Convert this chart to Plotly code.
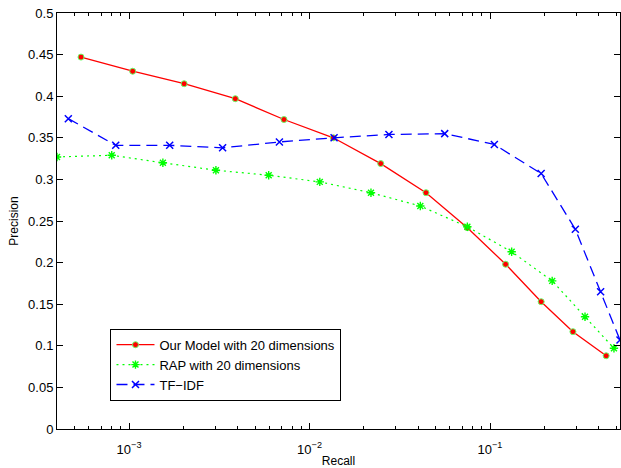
import plotly.graph_objects as go
import math

# Data
model_recall = [5.42e-4, 1.048e-3, 2.02e-3, 3.88e-3, 7.22e-3, 1.355e-2, 2.48e-2, 0.0442, 0.0749, 0.122, 0.192, 0.288, 0.440]
model_precision = [0.447, 0.430, 0.415, 0.397, 0.372, 0.350, 0.319, 0.284, 0.242, 0.198, 0.153, 0.117, 0.088]

rap_recall = [3.99e-4, 8.02e-4, 1.54e-3, 3.03e-3, 5.94e-3, 1.14e-2, 0.0219, 0.0411, 0.0749, 0.1318, 0.221, 0.336, 0.486]
rap_precision = [0.327, 0.329, 0.320, 0.311, 0.305, 0.297, 0.284, 0.268, 0.243, 0.213, 0.178, 0.135, 0.097]

tfidf_recall = [4.61e-4, 8.44e-4, 1.68e-3, 3.30e-3, 6.81e-3, 0.01368, 0.02754, 0.0561, 0.1057, 0.192, 0.297, 0.410, 0.525]
tfidf_precision = [0.373, 0.341, 0.341, 0.338, 0.345, 0.350, 0.354, 0.355, 0.342, 0.307, 0.240, 0.165, 0.107]

names = ["Our Model with 20 dimensions", "RAP with 20 dimensions", "TF\u2212IDF"]

y_ticks = [0, 0.05, 0.1, 0.15, 0.2, 0.25, 0.3, 0.35, 0.4, 0.45, 0.5]
y_labels = ["0", "0.05", "0.1", "0.15", "0.2", "0.25", "0.3", "0.35", "0.4", "0.45", "0.5"]
x_major = [1e-3, 1e-2, 1e-1]
x_labels = ["10<sup>\u22123</sup>", "10<sup>\u22122</sup>", "10<sup>\u22121</sup>"]

x_min = min(rap_recall)
x_max = max(tfidf_recall)
minor_vals = []
for e in range(-4, 1):
    for m in range(2, 10):
        v = m * 10 ** e
        if x_min <= v <= x_max:
            minor_vals.append(v)

fig = go.Figure()
fig.add_trace(go.Scatter(
    x=model_recall, y=model_precision, name=names[0], mode="lines+markers",
    line=dict(color="#ff0000", width=1.3),
    marker=dict(symbol="circle", size=6, color="#ff0000", line=dict(color="#66ff66", width=1)),
))
fig.add_trace(go.Scatter(
    x=rap_recall, y=rap_precision, name=names[1], mode="lines+markers",
    line=dict(color="#00ff00", width=1.2, dash="2px,4px"),
    marker=dict(symbol="asterisk-open", size=7, color="#00ff00", line=dict(color="#00ff00", width=1.4)),
))
fig.add_trace(go.Scatter(
    x=tfidf_recall, y=tfidf_precision, name=names[2], mode="lines+markers",
    line=dict(color="#0000ff", width=1.3, dash="11px,6px"),
    marker=dict(symbol="x-thin-open", size=7, color="#0000ff", line=dict(color="#0000ff", width=1.5)),
))

font = "Liberation Sans, Arial, Helvetica, sans-serif"
fig.update_layout(
    width=621, height=468,
    margin=dict(l=57, r=1, t=13, b=39),
    paper_bgcolor="white", plot_bgcolor="white",
    font=dict(family=font, size=13, color="black"),
    showlegend=True,
    legend=dict(
        x=0.095, y=0.241, xanchor="left", yanchor="top",
        bgcolor="white", bordercolor="black", borderwidth=1,
        font=dict(size=13), tracegroupgap=0, itemwidth=38,
    ),
    xaxis=dict(
        type="log",
        range=[math.log10(x_min), math.log10(x_max)],
        tickvals=x_major, ticktext=x_labels,
        ticks="inside", ticklen=6, tickwidth=1, tickcolor="black",
        minor=dict(tickvals=minor_vals, ticks="inside", ticklen=3, tickwidth=1, tickcolor="black", showgrid=False),
        showline=True, linecolor="black", linewidth=1, mirror="ticks",
        showgrid=False, zeroline=False,
        tickfont=dict(size=13),
        ticklabelstandoff=8,
        title=dict(text="Recall", font=dict(size=12), standoff=5),
        automargin=False,
    ),
    yaxis=dict(
        range=[0, 0.5],
        tickvals=y_ticks, ticktext=y_labels,
        ticks="inside", ticklen=6, tickwidth=1, tickcolor="black",
        showline=True, linecolor="black", linewidth=1, mirror="ticks",
        showgrid=False, zeroline=False,
        tickfont=dict(size=13),
        title=dict(text="Precision", font=dict(size=12), standoff=6),
        automargin=False,
    ),
)

fig.write_html("out.html", config={"displayModeBar": False},
               post_script="document.body.style.margin='0';")
